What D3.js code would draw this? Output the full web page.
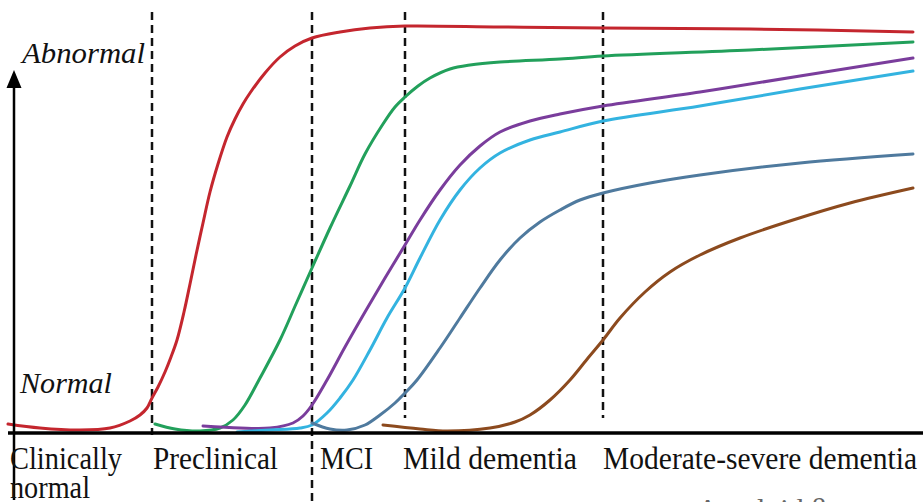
<!DOCTYPE html>
<html>
<head>
<meta charset="utf-8">
<style>
  html, body { margin: 0; padding: 0; background: #fff; }
  svg { display: block; }
</style>
</head>
<body>
<svg id="chart"></svg>
<script src="https://cdn.jsdelivr.net/npm/d3@7"></script>
<script>
/* globals d3 */
// Progression (x) vs abnormality (0 = normal, 100 = abnormal)
const stages = [
  { label: ['Clinically', 'normal'], start: 0.2, len: [112, 80] },
  { label: ['Preclinical'], start: 14.5, len: [125] },
  { label: ['MCI'], start: 31.2, len: [53] },
  { label: ['Mild dementia'], start: 39.5, len: [174] },
  { label: ['Moderate-severe dementia'], start: 59.5, len: [314] },
]
const boundaries = [14.4, 30.4, 39.7, 59.5]

const redX = [0, 3.2, 7.2, 10.2, 12.2, 13.2, 13.9, 14.4, 15, 15.7, 16.3, 16.9, 17.6, 18.2, 18.8, 19.5, 20.2, 21, 21.9, 22.7, 23.5, 24.2, 25.7, 27.2, 28.7, 30.4, 33.2, 36.2, 39.7, 49.2, 59.5, 74.2, 90.5]
const redY = [1.5, 0.5, 0, 0.5, 2.25, 3.75, 5.5, 8, 10.75, 14.5, 18.25, 22.5, 29.5, 36.5, 43.75, 51.75, 59.5, 66.5, 73.25, 77.75, 81.5, 84.25, 89.25, 93.25, 96, 98, 99.5, 100.5, 101, 100.75, 100.5, 100.25, 99.5]

const greenX = [14.7, 16.7, 19.2, 21.2, 22.5, 23.7, 25.2, 27.2, 28.8, 30.4, 32.2, 34.2, 35.7, 37.5, 38.7, 39.7, 41, 42.2, 44.2, 46.2, 49.2, 55.2, 59.5, 74.2, 90.5]
const greenY = [1.5, 0.25, -0.25, 0.5, 2.5, 6.25, 13, 22.5, 31.5, 40.5, 50.5, 61, 69, 76.5, 80.75, 83.25, 86, 88, 90.25, 91.25, 92, 92.75, 93.5, 95, 97]

const purpleX = [19.5, 23.2, 26.2, 28.5, 29.5, 30.4, 31.9, 33.7, 35.7, 37.7, 39.7, 41.2, 43.2, 45.2, 47.2, 49.2, 52.2, 55.2, 59.5, 69.2, 79.2, 90.5]
const purpleY = [1, 0.5, 0.5, 1.75, 3.5, 6.25, 12.5, 20.75, 29.5, 38, 46.25, 52.5, 60, 66.25, 71, 74.5, 77.25, 79, 81, 84.5, 88.5, 93]

const cyanX = [22.9, 26.2, 29.2, 30.4, 31.9, 33.2, 34.5, 36.2, 37.9, 39.7, 41.2, 43.2, 45.2, 47.2, 49.2, 52.2, 55.2, 59.5, 69.2, 79.2, 90.5]
const cyanY = [-0.5, 0, 0.5, 1.25, 4.25, 8, 12.5, 20, 28, 35.5, 43, 52.5, 60, 65.5, 69.25, 72.5, 74.5, 77.25, 81, 85.25, 89.75]

const steelX = [30.4, 32.2, 33.9, 35.7, 37.2, 38.7, 39.7, 40.9, 43.2, 45.2, 47.2, 49.2, 51.2, 53.2, 55.2, 57.2, 59.5, 64.2, 69.2, 79.2, 90.5]
const steelY = [1.75, 0.25, 0, 1.25, 3.75, 6.75, 9.25, 12.5, 20.5, 28, 35.5, 42.5, 48, 52, 55, 57.5, 59.25, 61.75, 63.75, 66.75, 69]

const brownX = [37.5, 41.2, 43.9, 48.2, 50.7, 52.2, 54.2, 56.2, 58, 59.5, 61.2, 63.7, 66.2, 69.2, 73.2, 78.5, 84.2, 90.5]
const brownY = [1.25, 0.25, -0.25, 0.5, 2, 3.75, 7.5, 12.5, 18, 22.5, 28, 34.5, 39.5, 43.75, 48, 52.5, 56.75, 60.5]

const series = [
  { x: redX, y: redY, color: '#c4262e' },
  { x: greenX, y: greenY, color: '#22a05b' },
  { x: purpleX, y: purpleY, color: '#7a3d9c' },
  { x: cyanX, y: cyanY, color: '#33b3e0' },
  { x: steelX, y: steelY, color: '#4f7a9e' },
  { x: brownX, y: brownY, color: '#8c4a1e' },
]

const width = 923, height = 502
const serif = "'Liberation Serif', 'Times New Roman', Times, 'DejaVu Serif', serif"
const x = d3.scaleLinear().domain([0, 91]).range([8, 918])
const y = d3.scaleLinear().domain([0, 100]).range([430, 30])
const baseY = 433

const svg = d3.select('#chart')
  .attr('width', width)
  .attr('height', height)
  .attr('viewBox', [0, 0, width, height])
  .attr('font-family', serif)

// Stage boundaries (the MCI one runs down through the labels)
const dashEnd = [435, height, 418, 418]
svg.append('g')
  .selectAll('line')
  .data(boundaries)
  .join('line')
  .attr('x1', d => x(d))
  .attr('x2', d => x(d))
  .attr('y1', 12)
  .attr('y2', (d, i) => dashEnd[i])
  .attr('stroke', '#111')
  .attr('stroke-width', 2.5)
  .attr('stroke-dasharray', '8,5')

// Curves
const line = d3.line()
  .x(d => x(d[0]))
  .y(d => y(d[1]))
  .curve(d3.curveCatmullRom.alpha(0.5))
svg.append('g')
  .selectAll('path')
  .data(series)
  .join('path')
  .attr('d', s => line(d3.zip(s.x, s.y)))
  .attr('fill', 'none')
  .attr('stroke', s => s.color)
  .attr('stroke-width', 3)
  .attr('stroke-linecap', 'round')

// Baseline
svg.append('line')
  .attr('x1', 8).attr('x2', width)
  .attr('y1', baseY).attr('y2', baseY)
  .attr('stroke', '#000')
  .attr('stroke-width', 3.5)

// Vertical arrow
svg.append('line')
  .attr('x1', 14).attr('x2', 14)
  .attr('y1', y(-17.5)).attr('y2', y(86))
  .attr('stroke', '#000')
  .attr('stroke-width', 2.5)
svg.append('path')
  .attr('d', `M14,${y(90)} L6.5,${y(85.5)} L21.5,${y(85.5)} Z`)
  .attr('fill', '#000')

// Y end labels
svg.append('text')
  .attr('x', 22).attr('y', 63)
  .attr('font-size', 29).attr('font-style', 'italic')
  .attr('fill', '#111')
  .attr('textLength', 123).attr('lengthAdjust', 'spacingAndGlyphs')
  .text('Abnormal')
svg.append('text')
  .attr('x', 20).attr('y', 393)
  .attr('font-size', 29).attr('font-style', 'italic')
  .attr('fill', '#111')
  .attr('textLength', 92).attr('lengthAdjust', 'spacingAndGlyphs')
  .text('Normal')

// Stage labels
stages.forEach(s => {
  s.label.forEach((t, i) => {
    svg.append('text')
      .attr('x', x(s.start))
      .attr('y', 469 + i * 29)
      .attr('font-size', 31)
      .attr('fill', '#111')
      .attr('textLength', s.len[i])
      .attr('lengthAdjust', 'spacingAndGlyphs')
      .text(t)
  })
})

// Cut-off caption at the very bottom
svg.append('text')
  .attr('x', 697).attr('y', 519)
  .attr('font-size', 30)
  .attr('fill', '#666')
  .text('Amyloid β')
</script>
</body>
</html>
